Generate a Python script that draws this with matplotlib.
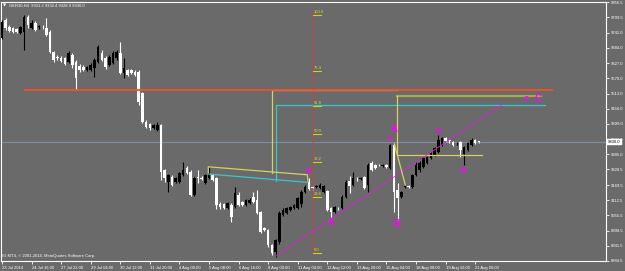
import matplotlib
matplotlib.use("Agg")
import matplotlib.pyplot as plt
import numpy as np

# ---------------- data (GER30, H4) ----------------
opens = [9721, 9789, 9763, 9759, 9755, 9740, 9744, 9800, 9759, 9778,
         9761, 9763, 9759, 9744, 9669, 9650, 9646, 9646, 9631, 9658,
         9631, 9616, 9613, 9601, 9601, 9609, 9631, 9665, 9646, 9620,
         9628, 9646, 9665, 9590, 9601, 9601, 9594, 9594, 9515, 9406,
         9399, 9384, 9376, 9395, 9226, 9181, 9200, 9181, 9181, 9208,
         9234, 9219, 9133, 9196, 9196, 9178, 9196, 9208, 9196, 9099,
         9099, 9084, 9095, 9088, 9133, 9106, 9095, 9103, 9125, 9114,
         9069, 9009, 9001, 8945, 8919, 8956, 9058, 9065, 9076, 9084,
         9084, 9099, 9144, 9181, 9163, 9163, 9159, 9144, 9148, 9084,
         9069, 9084, 9084, 9125, 9185, 9170, 9193, 9194, 9200, 9170,
         9253, 9245, 9245, 9241, 9245, 9234, 9320, 9151, 9125, 9161,
         9166, 9163, 9208, 9226, 9238, 9253, 9271, 9283, 9294, 9320,
         9346, 9339, 9331, 9326, 9331, 9286, 9301, 9320, 9339, 9331.2]
highs = [9789, 9796, 9770, 9763, 9759, 9766, 9808, 9808, 9789, 9785,
         9770, 9770, 9796, 9751, 9673, 9658, 9654, 9650, 9673, 9665,
         9639, 9624, 9620, 9616, 9628, 9646, 9695, 9676, 9654, 9658,
         9673, 9676, 9706, 9646, 9605, 9605, 9601, 9601, 9519, 9414,
         9403, 9399, 9406, 9399, 9230, 9211, 9208, 9200, 9219, 9256,
         9241, 9226, 9200, 9226, 9204, 9211, 9238, 9211, 9200, 9106,
         9103, 9106, 9103, 9163, 9144, 9110, 9118, 9121, 9144, 9151,
         9073, 9013, 9005, 8949, 8968, 9073, 9084, 9088, 9091, 9099,
         9125, 9151, 9170, 9196, 9170, 9170, 9178, 9170, 9151, 9088,
         9091, 9088, 9133, 9189, 9204, 9219, 9200, 9200, 9204, 9253,
         9260, 9249, 9249, 9249, 9249, 9324, 9328, 9178, 9148, 9166,
         9170, 9211, 9256, 9260, 9275, 9279, 9294, 9313, 9358, 9350,
         9350, 9343, 9335, 9331, 9335, 9317, 9331, 9346, 9343, 9332.4]
lows = [9718, 9751, 9744, 9740, 9740, 9736, 9676, 9759, 9755, 9748,
        9755, 9755, 9729, 9665, 9631, 9639, 9631, 9620, 9628, 9609,
        9526, 9594, 9598, 9598, 9598, 9575, 9628, 9635, 9605, 9616,
        9624, 9639, 9586, 9571, 9579, 9586, 9579, 9470, 9403, 9384,
        9376, 9380, 9373, 9189, 9181, 9144, 9166, 9178, 9178, 9204,
        9211, 9129, 9129, 9178, 9189, 9174, 9193, 9185, 9080, 9080,
        9080, 9080, 9031, 9084, 9091, 9091, 9091, 9099, 9103, 9061,
        8990, 8998, 8938, 8908, 8900, 8949, 9054, 9061, 9073, 9080,
        9080, 9088, 9140, 9151, 9151, 9159, 9155, 9140, 9073, 9050,
        9065, 9076, 9080, 9121, 9140, 9166, 9185, 9189, 9155, 9144,
        9223, 9230, 9241, 9238, 9234, 9230, 9069, 9039, 9121, 9159,
        9159, 9159, 9204, 9219, 9234, 9249, 9268, 9279, 9290, 9317,
        9331, 9328, 9317, 9320, 9275, 9245, 9298, 9317, 9324, 9328.9]
closes = [9781, 9759, 9748, 9744, 9744, 9763, 9800, 9770, 9778, 9751,
          9765, 9761, 9733, 9669, 9639, 9646, 9635, 9624, 9665, 9620,
          9571, 9601, 9601, 9613, 9620, 9639, 9688, 9639, 9613, 9650,
          9665, 9669, 9590, 9609, 9583, 9590, 9583, 9481, 9406, 9388,
          9384, 9395, 9395, 9219, 9196, 9208, 9170, 9196, 9215, 9226,
          9215, 9133, 9196, 9195, 9194, 9208, 9215, 9189, 9095, 9088,
          9084, 9103, 9050, 9140, 9095, 9095, 9114, 9114, 9106, 9065,
          8994, 9001, 8945, 8915, 8964, 9065, 9076, 9084, 9088, 9095,
          9121, 9144, 9163, 9155, 9159, 9166, 9170, 9166, 9076, 9069,
          9088, 9082, 9125, 9181, 9166, 9196, 9191, 9196, 9159, 9245,
          9226, 9234, 9243, 9245, 9238, 9320, 9144, 9121, 9144, 9165,
          9163, 9208, 9245, 9253, 9271, 9275, 9290, 9309, 9339, 9346,
          9335, 9335, 9320, 9328, 9301, 9313, 9328, 9339, 9328, 9330.0]

x_tick_bars = [0, 8, 16, 24, 32, 40, 48, 56, 64, 72, 80, 88, 96, 104, 112, 120, 128]
x_tick_labels = ["23 Jul 2014", "24 Jul 16:00", "27 Jul 22:00", "29 Jul 04:00",
                 "30 Jul 12:00", "31 Jul 20:00", "4 Aug 00:00", "5 Aug 08:00",
                 "6 Aug 16:00", "8 Aug 00:00", "11 Aug 04:00", "12 Aug 12:00",
                 "13 Aug 20:00", "15 Aug 04:00", "18 Aug 08:00", "19 Aug 16:00",
                 "21 Aug 00:00"]
y_tick_labels = ["9856.5", "9799.5", "9741.0", "9684.0", "9627.0", "9570.0",
                 "9513.0", "9456.0", "9399.0", "9342.0", "9285.0", "9228.5",
                 "9169.5", "9112.5", "9055.5", "8998.5", "8941.5", "8884.5"]

bid_price = 9330.0

# drawn objects (bar index, price)
orange_level = [(6.1, 9526), (148.8, 9526)]
yellow_box1 = [(106.9, 9525), (73.1, 9525), (73.1, 9216)]
cyan_box = [(146.9, 9470), (74.05, 9470), (74.05, 9184)]
olive_box_top = [(106.9, 9504), (145.8, 9504)]
olive_box = [(106.9, 9504), (106.9, 9283), (129.9, 9283)]
yellow_trend = [(55.8, 9215), (55.8, 9238), (82.6, 9208), (82.8, 9181)]
cyan_trend = [(55.8, 9211), (82.3, 9180)]
magenta_trend = [(74.0, 8902), (135.5, 9474)]
yellow_swing = [(106.2, 9320), (109.1, 9170)]

fib_x = 84.05
fib_line = (8915, 9826)
fib_low, fib_high = 8915, 9808
fib_levels = [100.0, 76.4, 61.8, 50.0, 38.2, 23.6, 0.0]
fib_names = ["100.0", "76.4", "61.8", "50.0", "38.2", "23.6", "0.0"]

wave_labels = ["a", "b", "c", "A", "B", "a", "b", "c", "C"]
wave_x = [82.8, 89.1, 105.0, 106.1, 106.9, 118.0, 124.7, 141.8, 145.0]
wave_y = [9223, 9028, 9346, 9380, 9024, 9376, 9223, 9496, 9493]

# ---------------- figure ----------------
BG = "#6a6a6a"
W, H = 625, 271
fig = plt.figure(figsize=(W / 100, H / 100), dpi=100, facecolor=BG)
ax = fig.add_axes([0.5 / W, 10 / H, 605.5 / W, 259 / H], facecolor=BG)
FONT = ["Liberation Sans", "DejaVu Sans"]

n = len(closes)
idx = np.arange(n)
o = np.array(opens); c = np.array(closes); hi = np.array(highs); lo = np.array(lows)
down = c < o
col = np.where(down, "white", "black")

ax.axhline(bid_price, color="#7f8fa3", lw=0.8, zorder=1)

ax.vlines(idx, lo, hi, colors=col, lw=0.8, zorder=3)
body_bot = np.minimum(o, c)
body_h = np.maximum(np.abs(c - o), 3.0)
ax.bar(idx, body_h, bottom=body_bot, width=0.7, color=col, linewidth=0, zorder=4)

def poly(pts, z=5, **kw):
    xs, ys = zip(*pts)
    ax.plot(xs, ys, zorder=z, **kw)

poly(yellow_box1, z=4.5, color="#d8d060", lw=0.9)
poly(orange_level, z=5, color="#f0522a", lw=1.3)
poly(cyan_box, color="#3cc4cc", lw=0.9)
poly(olive_box_top, color="#a8a848", lw=1.6)
poly(olive_box, color="#d8d060", lw=0.9)
poly(yellow_trend, color="#d8d060", lw=0.9)
poly(cyan_trend, color="#3cc4cc", lw=0.9)
poly(magenta_trend, color="#e020e0", lw=0.6)
poly(yellow_swing, color="#d8d060", lw=0.9)

ax.plot([fib_x, fib_x], fib_line, color="#ff2a2a", lw=0.8,
        linestyle=(0, (1.5, 1.5)), zorder=6)
for lev, name in zip(fib_levels, fib_names):
    p = fib_low + (fib_high - fib_low) * lev / 100.0
    ax.plot([fib_x + 0.15, fib_x + 2.3], [p, p], color="#d8d000", lw=0.8, zorder=6)
    ax.text(fib_x + 0.3, p + 4, name, color="#e0dc20", fontsize=3,
            family=FONT, ha="left", va="bottom", zorder=7)

for t, xx, yy in zip(wave_labels, wave_x, wave_y):
    ax.text(xx, yy, t, color="#ff00ff", fontsize=7 if t.isupper() else 6.5,
            fontweight="bold", family=FONT, ha="center", va="center", zorder=8)

# axes limits & ticks
ax.set_xlim(-0.405, 163.38)
ax.set_ylim(8885.25, 9856.5)
ax.set_xticks(x_tick_bars)
ax.set_xticklabels(x_tick_labels, ha="left")
ytv = [float(s) for s in y_tick_labels]
ax.yaxis.tick_right()
ax.set_yticks(ytv)
ax.set_yticklabels(y_tick_labels)
ax.tick_params(axis="both", colors="white", labelcolor="white", labelsize=3,
               length=2.2, width=0.6, pad=1.2)
ax.tick_params(axis="x", pad=1.5)
for lab in ax.get_xticklabels() + ax.get_yticklabels():
    lab.set_family(FONT)
for s in ax.spines.values():
    s.set_color("white")
    s.set_linewidth(0.8)

# current price box
ax.text(1.0035, bid_price, f"{bid_price:.1f}", transform=ax.get_yaxis_transform(),
        fontsize=3, family=FONT, color="black", ha="left", va="center", zorder=10,
        bbox=dict(boxstyle="square,pad=0.25", fc="white", ec="white", lw=0.3),
        clip_on=False)

# header and footer texts
fig.text(3 / W, 1 - 5.5 / H, "▼", fontsize=3, color="white", family=["DejaVu Sans"],
         ha="left", va="center")
fig.text(9 / W, 1 - 5.5 / H,
         f"GER30,H4  {opens[-1]:.1f} {highs[-1]:.1f} {lows[-1]:.1f} {closes[-1]:.1f}",
         fontsize=3, color="white", family=FONT, ha="left", va="center")
fig.text(2.5 / W, 1 - 256.5 / H, "IG MT4, © 2001-2014, MetaQuotes Software Corp.",
         fontsize=3, color="white", family=FONT, ha="left", va="center")

fig.savefig("out.png", dpi=100, facecolor=BG)
